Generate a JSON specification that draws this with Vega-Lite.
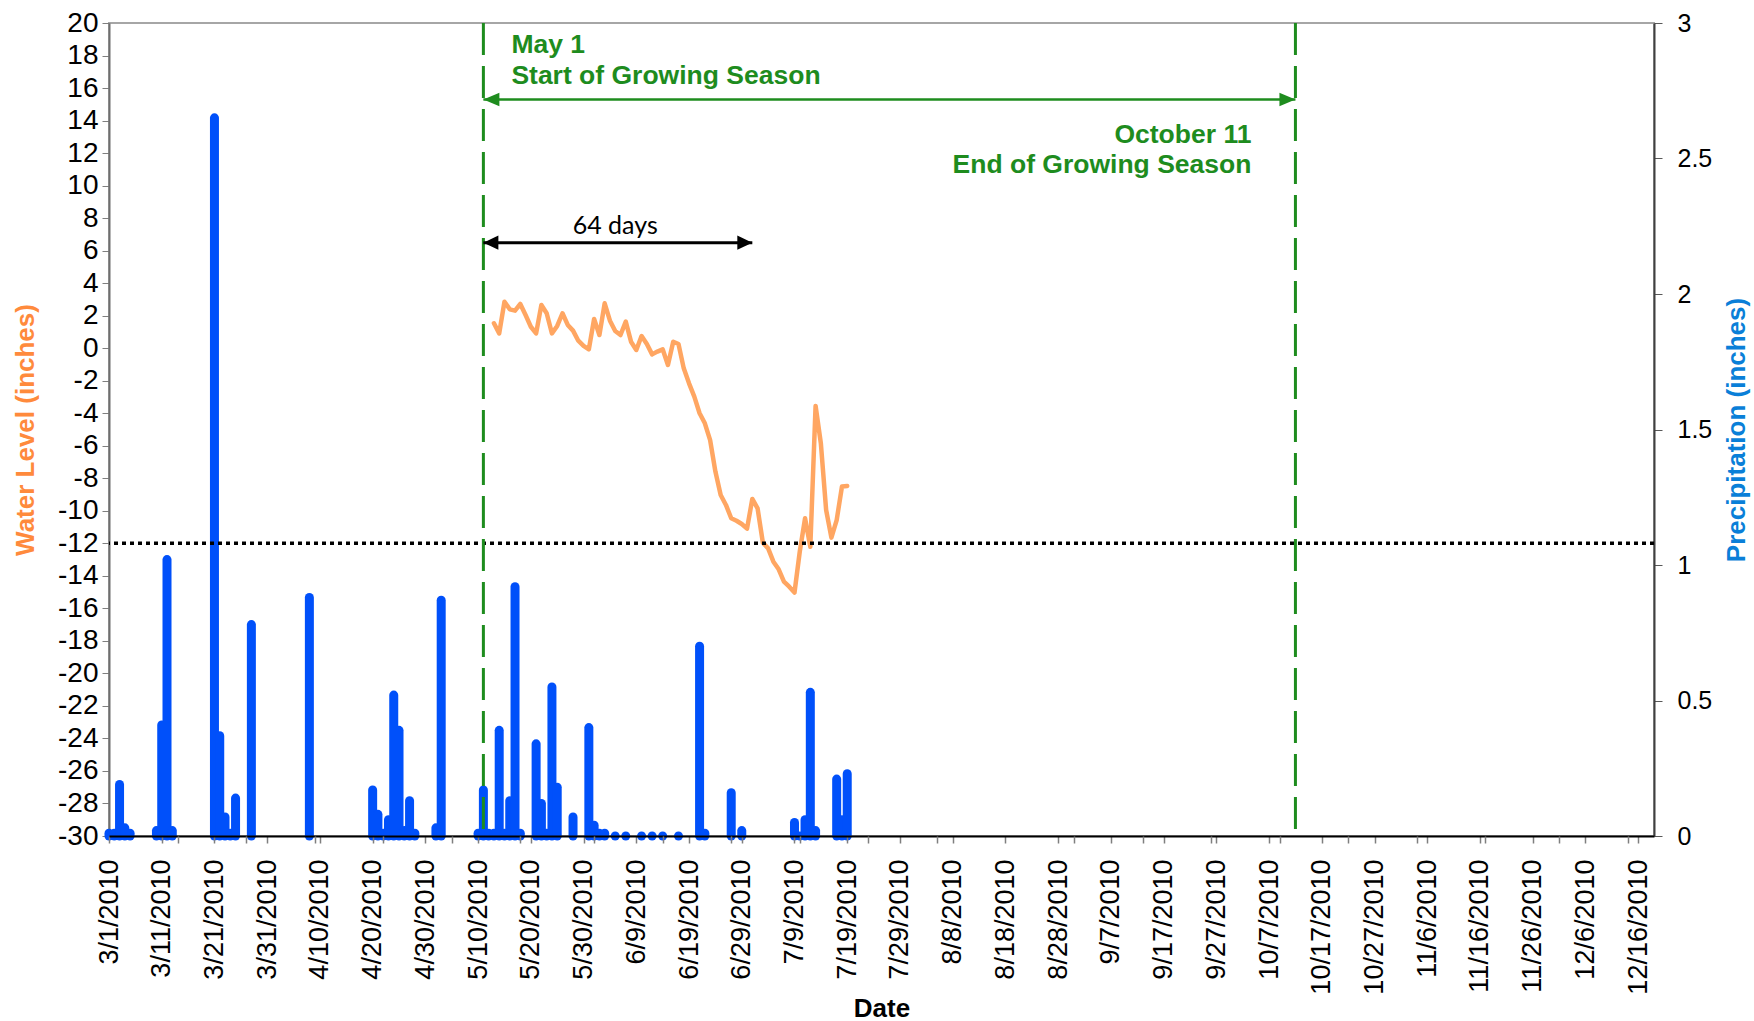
{
  "$schema": "https://vega.github.io/schema/vega-lite/v6.json",
  "width": 1545,
  "height": 813,
  "autosize": {"type": "none"},
  "padding": {"left": 109, "top": 23, "right": 100, "bottom": 185},
  "background": "white",
  "config": {
    "font": "Liberation Sans",
    "view": {"stroke": "#A6A6A6", "strokeWidth": 2}
  },
  "datasets": {
    "precip": [
      {"date": "2010-03-01", "precip": 0.01},
      {"date": "2010-03-02", "precip": 0.01},
      {"date": "2010-03-03", "precip": 0.19},
      {"date": "2010-03-04", "precip": 0.03},
      {"date": "2010-03-05", "precip": 0.01},
      {"date": "2010-03-10", "precip": 0.02},
      {"date": "2010-03-11", "precip": 0.41},
      {"date": "2010-03-12", "precip": 1.02},
      {"date": "2010-03-13", "precip": 0.02},
      {"date": "2010-03-21", "precip": 2.65},
      {"date": "2010-03-22", "precip": 0.37},
      {"date": "2010-03-23", "precip": 0.07},
      {"date": "2010-03-24", "precip": 0.01},
      {"date": "2010-03-25", "precip": 0.14},
      {"date": "2010-03-28", "precip": 0.78},
      {"date": "2010-04-08", "precip": 0.88},
      {"date": "2010-04-20", "precip": 0.17},
      {"date": "2010-04-21", "precip": 0.08},
      {"date": "2010-04-22", "precip": 0.01},
      {"date": "2010-04-23", "precip": 0.06},
      {"date": "2010-04-24", "precip": 0.52},
      {"date": "2010-04-25", "precip": 0.39},
      {"date": "2010-04-26", "precip": 0.02},
      {"date": "2010-04-27", "precip": 0.13},
      {"date": "2010-04-28", "precip": 0.01},
      {"date": "2010-05-02", "precip": 0.03},
      {"date": "2010-05-03", "precip": 0.87},
      {"date": "2010-05-10", "precip": 0.01},
      {"date": "2010-05-11", "precip": 0.17},
      {"date": "2010-05-12", "precip": 0.01},
      {"date": "2010-05-13", "precip": 0.01},
      {"date": "2010-05-14", "precip": 0.39},
      {"date": "2010-05-15", "precip": 0.01},
      {"date": "2010-05-16", "precip": 0.13},
      {"date": "2010-05-17", "precip": 0.92},
      {"date": "2010-05-18", "precip": 0.01},
      {"date": "2010-05-21", "precip": 0.34},
      {"date": "2010-05-22", "precip": 0.12},
      {"date": "2010-05-23", "precip": 0.01},
      {"date": "2010-05-24", "precip": 0.55},
      {"date": "2010-05-25", "precip": 0.18},
      {"date": "2010-05-28", "precip": 0.07},
      {"date": "2010-05-31", "precip": 0.40},
      {"date": "2010-06-01", "precip": 0.04},
      {"date": "2010-06-02", "precip": 0.01},
      {"date": "2010-06-03", "precip": 0.01},
      {"date": "2010-06-05", "precip": 0.0},
      {"date": "2010-06-07", "precip": 0.0},
      {"date": "2010-06-10", "precip": 0.0},
      {"date": "2010-06-12", "precip": 0.0},
      {"date": "2010-06-14", "precip": 0.0},
      {"date": "2010-06-17", "precip": 0.0},
      {"date": "2010-06-21", "precip": 0.70},
      {"date": "2010-06-22", "precip": 0.01},
      {"date": "2010-06-27", "precip": 0.16},
      {"date": "2010-06-29", "precip": 0.02},
      {"date": "2010-07-09", "precip": 0.05},
      {"date": "2010-07-10", "precip": 0.0},
      {"date": "2010-07-11", "precip": 0.06},
      {"date": "2010-07-12", "precip": 0.53},
      {"date": "2010-07-13", "precip": 0.02},
      {"date": "2010-07-17", "precip": 0.21},
      {"date": "2010-07-18", "precip": 0.06},
      {"date": "2010-07-19", "precip": 0.23}
    ],
    "water": [
      {"date": "2010-05-13", "level": 1.53},
      {"date": "2010-05-14", "level": 0.91},
      {"date": "2010-05-15", "level": 2.86},
      {"date": "2010-05-16", "level": 2.39},
      {"date": "2010-05-17", "level": 2.31},
      {"date": "2010-05-18", "level": 2.72},
      {"date": "2010-05-19", "level": 2.04},
      {"date": "2010-05-20", "level": 1.32},
      {"date": "2010-05-21", "level": 0.91},
      {"date": "2010-05-22", "level": 2.66},
      {"date": "2010-05-23", "level": 2.15},
      {"date": "2010-05-24", "level": 0.91},
      {"date": "2010-05-25", "level": 1.37},
      {"date": "2010-05-26", "level": 2.15},
      {"date": "2010-05-27", "level": 1.43},
      {"date": "2010-05-28", "level": 1.08},
      {"date": "2010-05-29", "level": 0.46},
      {"date": "2010-05-30", "level": 0.14},
      {"date": "2010-05-31", "level": -0.07},
      {"date": "2010-06-01", "level": 1.80},
      {"date": "2010-06-02", "level": 0.81},
      {"date": "2010-06-03", "level": 2.76},
      {"date": "2010-06-04", "level": 1.69},
      {"date": "2010-06-05", "level": 1.06},
      {"date": "2010-06-06", "level": 0.81},
      {"date": "2010-06-07", "level": 1.63},
      {"date": "2010-06-08", "level": 0.40},
      {"date": "2010-06-09", "level": -0.11},
      {"date": "2010-06-10", "level": 0.75},
      {"date": "2010-06-11", "level": 0.26},
      {"date": "2010-06-12", "level": -0.38},
      {"date": "2010-06-13", "level": -0.21},
      {"date": "2010-06-14", "level": -0.07},
      {"date": "2010-06-15", "level": -1.03},
      {"date": "2010-06-16", "level": 0.40},
      {"date": "2010-06-17", "level": 0.26},
      {"date": "2010-06-18", "level": -1.24},
      {"date": "2010-06-19", "level": -2.16},
      {"date": "2010-06-20", "level": -2.98},
      {"date": "2010-06-21", "level": -4.00},
      {"date": "2010-06-22", "level": -4.62},
      {"date": "2010-06-23", "level": -5.65},
      {"date": "2010-06-24", "level": -7.59},
      {"date": "2010-06-25", "level": -9.03},
      {"date": "2010-06-26", "level": -9.64},
      {"date": "2010-06-27", "level": -10.46},
      {"date": "2010-06-28", "level": -10.61},
      {"date": "2010-06-29", "level": -10.81},
      {"date": "2010-06-30", "level": -11.10},
      {"date": "2010-07-01", "level": -9.27},
      {"date": "2010-07-02", "level": -9.85},
      {"date": "2010-07-03", "level": -11.96},
      {"date": "2010-07-04", "level": -12.31},
      {"date": "2010-07-05", "level": -13.13},
      {"date": "2010-07-06", "level": -13.60},
      {"date": "2010-07-07", "level": -14.36},
      {"date": "2010-07-08", "level": -14.67},
      {"date": "2010-07-09", "level": -15.03},
      {"date": "2010-07-10", "level": -12.51},
      {"date": "2010-07-11", "level": -10.46},
      {"date": "2010-07-12", "level": -12.21},
      {"date": "2010-07-13", "level": -3.55},
      {"date": "2010-07-14", "level": -5.85},
      {"date": "2010-07-15", "level": -9.95},
      {"date": "2010-07-16", "level": -11.65},
      {"date": "2010-07-17", "level": -10.57},
      {"date": "2010-07-18", "level": -8.51},
      {"date": "2010-07-19", "level": -8.47}
    ]
  },
  "resolve": {"scale": {"y": "independent"}, "axis": {"x": "independent"}},
  "layer": [
    {
      "data": {"name": "precip"},
      "mark": {"type": "rule", "color": "#0050FA", "strokeWidth": 9, "strokeCap": "round"},
      "encoding": {
        "x": {
          "field": "date",
          "type": "temporal",
          "scale": {
            "type": "utc",
            "domain": [
              {"year": 2010, "month": 3, "date": 1, "utc": true},
              {"year": 2010, "month": 12, "date": 19, "utc": true}
            ]
          },
          "axis": {
            "orient": "bottom",
            "values": [
              {"year": 2010, "month": 3, "date": 1, "utc": true},
              {"year": 2010, "month": 3, "date": 11, "utc": true},
              {"year": 2010, "month": 3, "date": 21, "utc": true},
              {"year": 2010, "month": 3, "date": 31, "utc": true},
              {"year": 2010, "month": 4, "date": 10, "utc": true},
              {"year": 2010, "month": 4, "date": 20, "utc": true},
              {"year": 2010, "month": 4, "date": 30, "utc": true},
              {"year": 2010, "month": 5, "date": 10, "utc": true},
              {"year": 2010, "month": 5, "date": 20, "utc": true},
              {"year": 2010, "month": 5, "date": 30, "utc": true},
              {"year": 2010, "month": 6, "date": 9, "utc": true},
              {"year": 2010, "month": 6, "date": 19, "utc": true},
              {"year": 2010, "month": 6, "date": 29, "utc": true},
              {"year": 2010, "month": 7, "date": 9, "utc": true},
              {"year": 2010, "month": 7, "date": 19, "utc": true},
              {"year": 2010, "month": 7, "date": 29, "utc": true},
              {"year": 2010, "month": 8, "date": 8, "utc": true},
              {"year": 2010, "month": 8, "date": 18, "utc": true},
              {"year": 2010, "month": 8, "date": 28, "utc": true},
              {"year": 2010, "month": 9, "date": 7, "utc": true},
              {"year": 2010, "month": 9, "date": 17, "utc": true},
              {"year": 2010, "month": 9, "date": 27, "utc": true},
              {"year": 2010, "month": 10, "date": 7, "utc": true},
              {"year": 2010, "month": 10, "date": 17, "utc": true},
              {"year": 2010, "month": 10, "date": 27, "utc": true},
              {"year": 2010, "month": 11, "date": 6, "utc": true},
              {"year": 2010, "month": 11, "date": 16, "utc": true},
              {"year": 2010, "month": 11, "date": 26, "utc": true},
              {"year": 2010, "month": 12, "date": 6, "utc": true},
              {"year": 2010, "month": 12, "date": 16, "utc": true}
            ],
            "tickCount": 60,
            "format": "%-m/%-d/%Y",
            "labelAngle": 270,
            "labelAlign": "right",
            "labelBaseline": "middle",
            "labelFontSize": 27,
            "labelPadding": 16,
            "labelOverlap": false,
            "labelFlush": false,
            "labelColor": "black",
            "tickSize": 7,
            "tickColor": "#7F7F7F",
            "tickWidth": 1.5,
            "domainColor": "black",
            "domainWidth": 2,
            "grid": false,
            "title": "Date",
            "titleFontSize": 26,
            "titleFontWeight": "bold",
            "titleColor": "black",
            "titleY": 172,
            "titleBaseline": "middle",
            "zindex": 1
          }
        },
        "y": {
          "field": "precip",
          "type": "quantitative",
          "scale": {"domain": [0, 3], "nice": false, "zero": true},
          "axis": {
            "orient": "right",
            "values": [0, 0.5, 1, 1.5, 2, 2.5, 3],
            "tickCount": 20,
            "labelExpr": "'' + datum.value",
            "labelFontSize": 25,
            "labelColor": "black",
            "labelPadding": 15,
            "labelOverlap": false,
            "tickSize": 8,
            "tickColor": "#595959",
            "domainColor": "#404040",
            "domainWidth": 2,
            "grid": false,
            "title": "Precipitation (inches)",
            "titleColor": "#0A7FD8",
            "titleFontSize": 26,
            "titleFontWeight": "bold",
            "titleAngle": 270,
            "titleX": 82,
            "titleY": 406.5,
            "titleAlign": "center",
            "titleBaseline": "middle"
          }
        },
        "y2": {"datum": 0}
      }
    },
    {
      "layer": [
        {
          "data": {"name": "water"},
          "mark": {"type": "line", "color": "#FFA662", "strokeWidth": 4.5, "strokeJoin": "round", "strokeCap": "round"},
          "encoding": {
            "x": {
              "field": "date",
              "type": "temporal",
              "axis": {
                "orient": "bottom",
                "values": [
                  {"year": 2010, "month": 3, "date": 14, "utc": true},
                  {"year": 2010, "month": 3, "date": 27, "utc": true},
                  {"year": 2010, "month": 4, "date": 9, "utc": true},
                  {"year": 2010, "month": 4, "date": 22, "utc": true},
                  {"year": 2010, "month": 5, "date": 5, "utc": true},
                  {"year": 2010, "month": 5, "date": 18, "utc": true},
                  {"year": 2010, "month": 6, "date": 1, "utc": true},
                  {"year": 2010, "month": 6, "date": 14, "utc": true},
                  {"year": 2010, "month": 6, "date": 27, "utc": true},
                  {"year": 2010, "month": 7, "date": 10, "utc": true},
                  {"year": 2010, "month": 7, "date": 23, "utc": true},
                  {"year": 2010, "month": 8, "date": 5, "utc": true},
                  {"year": 2010, "month": 8, "date": 31, "utc": true},
                  {"year": 2010, "month": 9, "date": 13, "utc": true},
                  {"year": 2010, "month": 9, "date": 26, "utc": true},
                  {"year": 2010, "month": 10, "date": 9, "utc": true},
                  {"year": 2010, "month": 10, "date": 22, "utc": true},
                  {"year": 2010, "month": 11, "date": 4, "utc": true},
                  {"year": 2010, "month": 11, "date": 17, "utc": true},
                  {"year": 2010, "month": 12, "date": 1, "utc": true},
                  {"year": 2010, "month": 12, "date": 14, "utc": true}
                ],
                "tickCount": 60,
                "labels": false,
                "domain": false,
                "grid": false,
                "title": null,
                "tickSize": 7,
                "tickColor": "#7F7F7F",
                "tickWidth": 1.5,
                "zindex": 1
              }
            },
            "y": {
              "field": "level",
              "type": "quantitative",
              "scale": {"domain": [-30, 20], "nice": false, "zero": false},
              "axis": {
                "orient": "left",
                "values": [-30, -28, -26, -24, -22, -20, -18, -16, -14, -12, -10, -8, -6, -4, -2, 0, 2, 4, 6, 8, 10, 12, 14, 16, 18, 20],
                "tickCount": 60,
                "labelExpr": "'' + datum.value",
                "labelFontSize": 28,
                "labelColor": "black",
                "labelPadding": 4,
                "labelOverlap": false,
                "labelFlush": false,
                "tickSize": 7,
                "tickColor": "#7F7F7F",
                "domainColor": "#6E6E6E",
                "domainWidth": 2,
                "grid": false,
                "title": "Water Level (inches)",
                "titleColor": "#FF8A3C",
                "titleFontSize": 26,
                "titleFontWeight": "bold",
                "titleAngle": 270,
                "titleX": -84,
                "titleY": 406.5,
                "titleAlign": "center",
                "titleBaseline": "middle"
              }
            }
          }
        },
        {
          "data": {"values": [{}]},
          "mark": {"type": "rule", "color": "black", "strokeWidth": 3.5, "strokeDash": [4, 4]},
          "encoding": {"y": {"datum": -12}}
        },
        {
          "data": {"values": [{}]},
          "mark": {"type": "rule", "color": "#1E8C1E", "strokeWidth": 3, "strokeDash": [32, 11]},
          "encoding": {"x": {"datum": {"year": 2010, "month": 5, "date": 11, "utc": true}, "type": "temporal"}}
        },
        {
          "data": {"values": [{}]},
          "mark": {"type": "rule", "color": "#1E8C1E", "strokeWidth": 3, "strokeDash": [32, 11]},
          "encoding": {"x": {"datum": {"year": 2010, "month": 10, "date": 12, "utc": true}, "type": "temporal"}}
        },
        {
          "data": {"values": [{}]},
          "mark": {"type": "rule", "color": "#1E8C1E", "strokeWidth": 2.5},
          "encoding": {
            "x": {"datum": {"year": 2010, "month": 5, "date": 11, "utc": true}, "type": "temporal"},
            "x2": {"datum": {"year": 2010, "month": 10, "date": 12, "utc": true}},
            "y": {"datum": 15.3}
          }
        },
        {
          "data": {"values": [{}]},
          "mark": {"type": "point", "shape": "M0,0L1,-0.42L1,0.42Z", "size": 1024, "filled": true, "color": "#1E8C1E", "opacity": 1, "strokeWidth": 0},
          "encoding": {
            "x": {"datum": {"year": 2010, "month": 5, "date": 11, "utc": true}, "type": "temporal"},
            "y": {"datum": 15.3}
          }
        },
        {
          "data": {"values": [{}]},
          "mark": {"type": "point", "shape": "M0,0L-1,-0.42L-1,0.42Z", "size": 1024, "filled": true, "color": "#1E8C1E", "opacity": 1, "strokeWidth": 0},
          "encoding": {
            "x": {"datum": {"year": 2010, "month": 10, "date": 12, "utc": true}, "type": "temporal"},
            "y": {"datum": 15.3}
          }
        },
        {
          "data": {"values": [{}]},
          "mark": {"type": "rule", "color": "black", "strokeWidth": 3},
          "encoding": {
            "x": {"datum": {"year": 2010, "month": 5, "date": 11, "utc": true}, "type": "temporal"},
            "x2": {"datum": {"year": 2010, "month": 7, "date": 1, "utc": true}},
            "y": {"datum": 6.49}
          }
        },
        {
          "data": {"values": [{}]},
          "mark": {"type": "point", "shape": "M0,0L1,-0.47L1,0.47Z", "size": 900, "filled": true, "color": "black", "opacity": 1, "strokeWidth": 0},
          "encoding": {
            "x": {"datum": {"year": 2010, "month": 5, "date": 11, "utc": true}, "type": "temporal"},
            "y": {"datum": 6.49}
          }
        },
        {
          "data": {"values": [{}]},
          "mark": {"type": "point", "shape": "M0,0L-1,-0.47L-1,0.47Z", "size": 900, "filled": true, "color": "black", "opacity": 1, "strokeWidth": 0},
          "encoding": {
            "x": {"datum": {"year": 2010, "month": 7, "date": 1, "utc": true}, "type": "temporal"},
            "y": {"datum": 6.49}
          }
        },
        {
          "data": {"values": [{}]},
          "mark": {"type": "text", "text": ["May 1", "Start of Growing Season"], "align": "left", "baseline": "alphabetic", "dx": 28, "fontSize": 26.5, "fontWeight": "bold", "color": "#1E8C1E", "lineHeight": 31},
          "encoding": {
            "x": {"datum": {"year": 2010, "month": 5, "date": 11, "utc": true}, "type": "temporal"},
            "y": {"datum": 18.14}
          }
        },
        {
          "data": {"values": [{}]},
          "mark": {"type": "text", "text": ["October 11", "End of Growing Season"], "align": "right", "baseline": "alphabetic", "dx": -44, "fontSize": 26.5, "fontWeight": "bold", "color": "#1E8C1E", "lineHeight": 30},
          "encoding": {
            "x": {"datum": {"year": 2010, "month": 10, "date": 12, "utc": true}, "type": "temporal"},
            "y": {"datum": 12.61}
          }
        },
        {
          "data": {"values": [{}]},
          "mark": {"type": "text", "text": "64 days", "align": "center", "baseline": "alphabetic", "font": "Lato", "fontSize": 25, "color": "black"},
          "encoding": {
            "x": {"datum": {"year": 2010, "month": 6, "date": 5, "utc": true}, "type": "temporal"},
            "y": {"datum": 7.02}
          }
        }
      ]
    }
  ]
}
